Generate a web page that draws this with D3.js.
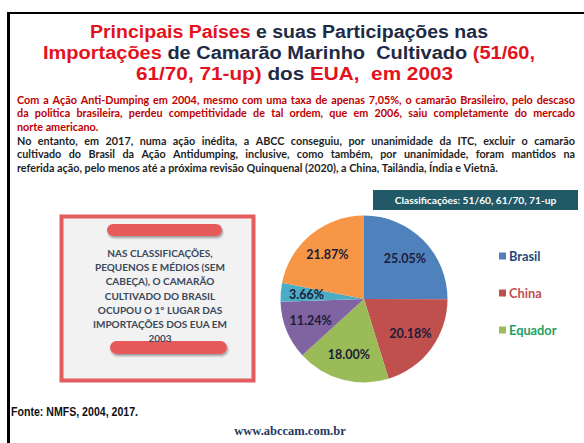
<!DOCTYPE html>
<html><head><meta charset="utf-8">
<script src="https://cdn.jsdelivr.net/npm/d3@7"></script>
<style>html,body{margin:0;padding:0;background:#fff}svg{display:block}text{white-space:pre}</style>
</head><body>
<script>
// ---- data ----
const categories = ["Brasil", "China", "Equador", "", "", ""];
const shares = [25.05, 20.18, 18.00, 11.24, 3.66, 21.87];
const shareLabels = ["25.05%", "20.18%", "18.00%", "11.24%", "3.66%", "21.87%"];
const legendItems = ["Brasil", "China", "Equador"];
const titleLines = [
  [["Principais Países", "r"], [" e suas Participações nas", "d"]],
  [["Importações", "r"], [" de Camarão Marinho  Cultivado ", "d"], ["(51/60,", "r"]],
  [["61/70, 71-up)", "r"], [" dos ", "d"], ["EUA,  em 2003", "r"]]
];
const para1 = [
  "Com a Ação Anti-Dumping em 2004, mesmo com uma taxa de apenas 7,05%, o camarão Brasileiro, pelo descaso",
  "da politica  brasileira, perdeu competitividade  de tal ordem, que em 2006, saiu completamente do mercado",
  "norte americano."
];
const para2 = [
  "No entanto, em 2017, numa ação inédita, a ABCC conseguiu, por unanimidade da ITC,  excluir o camarão",
  "cultivado do Brasil da Ação Antidumping, inclusive, como também, por unanimidade, foram mantidos na",
  "referida ação, pelo menos até a próxima revisão Quinquenal (2020), a China, Tailândia, Índia e Vietnã."
];
const boxLines = ["NAS CLASSIFICAÇÕES,", "PEQUENOS E MÉDIOS (SEM", "CABEÇA), O CAMARÃO",
  "CULTIVADO DO BRASIL", "OCUPOU O 1° LUGAR DAS", "IMPORTAÇÕES DOS EUA EM", "2003"];
const classLabel = "Classificações: 51/60, 61/70, 71-up";
const sourceText = "Fonte: NMFS, 2004, 2017.";
const siteText = "www.abccam.com.br";

// ---- drawing ----
const W = 584, H = 443;
const svg = d3.select("body").append("svg").attr("width", W).attr("height", H);
const defs = svg.append("defs");
const f = defs.append("filter").attr("id", "sh").attr("x", "-20%").attr("y", "-50%").attr("width", "140%").attr("height", "220%");
f.append("feDropShadow").attr("dx", 1).attr("dy", 2).attr("stdDeviation", 1.2).attr("flood-color", "#000").attr("flood-opacity", 0.35);

// frame
svg.append("rect").attr("x", 7).attr("y", 12).attr("width", W - 7).attr("height", 2).attr("fill", "#000");
svg.append("rect").attr("x", 7).attr("y", 12).attr("width", 3).attr("height", H - 12).attr("fill", "#000");

// title
const tcol = { r: "#E3121C", d: "#1E2B45" };
const titleGeo = [{ x: 90, y: 38, w: 398 }, { x: 43, y: 59, w: 492 }, { x: 136, y: 80, w: 317 }];
titleLines.forEach((ln, i) => {
  const t = svg.append("text").attr("x", titleGeo[i].x).attr("y", titleGeo[i].y)
    .attr("font-family", "'Liberation Sans Narrow','Arial Narrow','Liberation Sans',sans-serif")
    .attr("font-weight", "bold").attr("font-size", 18.8);
  ln.forEach(([s, c]) => t.append("tspan").attr("fill", tcol[c]).text(s));
  t.attr("textLength", titleGeo[i].w).attr("lengthAdjust", "spacingAndGlyphs");
});

// paragraphs (justified)
const pFont = "Lato, 'Open Sans', sans-serif", pSize = 10.8;
const pLeft = 17, pRight = 575;
function para(lines, y0, color) {
  lines.forEach((ln, i) => {
    const y = y0 + i * 13.6;
    const last = i === lines.length - 1;
    const words = ln.split(/\s+/).filter(w => w.length);
    const g = svg.append("g");
    const nodes = words.map(w => g.append("text").attr("y", y).attr("font-family", pFont)
      .attr("font-weight", "bold").attr("font-size", pSize).attr("fill", color).text(w));
    const widths = nodes.map(n => n.node().getComputedTextLength());
    const tot = d3.sum(widths);
    const space = last ? pSize * 0.24 : (pRight - pLeft - tot) / (words.length - 1);
    let x = pLeft;
    nodes.forEach((n, k) => { n.attr("x", x); x += widths[k] + space; });
  });
}
para(para1, 103.5, "#C00000");
para(para2, 144.5, "#1F1F1F");

// left info box
svg.append("rect").attr("x", 61.5).attr("y", 216.5).attr("width", 192).attr("height", 164)
  .attr("fill", "#F2F2F2").attr("stroke", "#E35D5F").attr("stroke-width", 4);
svg.append("rect").attr("x", 107).attr("y", 224).attr("width", 115).attr("height", 12).attr("rx", 6)
  .attr("fill", "#E65A5C").attr("filter", "url(#sh)");
svg.append("rect").attr("x", 110).attr("y", 341).attr("width", 117).attr("height", 13).attr("rx", 6.5)
  .attr("fill", "#E65A5C").attr("filter", "url(#sh)");
svg.append("g").selectAll("text").data(boxLines).join("text")
  .attr("x", 160).attr("y", (d, i) => 257 + i * 14.2).attr("text-anchor", "middle")
  .attr("font-family", pFont).attr("font-weight", "bold").attr("font-size", 10)
  .attr("fill", "#3A485A").text(d => d);

// classification banner
svg.append("rect").attr("x", 373).attr("y", 190).attr("width", 205).attr("height", 20).attr("fill", "#215967");
svg.append("text").attr("x", 475.5).attr("y", 203.5).attr("text-anchor", "middle")
  .attr("font-family", pFont).attr("font-weight", "bold").attr("font-size", 10.2)
  .attr("fill", "#fff").text(classLabel);

// pie
const colors = ["#4F81BD", "#C0504D", "#9BBB59", "#8064A2", "#4BACC6", "#F79646"];
const cx = 364, cy = 299, R = 83.5;
const data = categories.map((c, i) => ({ c, v: shares[i], l: shareLabels[i], col: colors[i] }));
const pie = d3.pie().value(d => d.v).sort(null);
const arcs = pie(data);
const arc = d3.arc().innerRadius(0).outerRadius(R);
const labArc = d3.arc().innerRadius(R * 0.69).outerRadius(R * 0.69);
const pg = svg.append("g").attr("transform", `translate(${cx},${cy})`);
pg.selectAll("path").data(arcs).join("path").attr("d", arc).attr("fill", d => d.data.col);
pg.selectAll("text").data(arcs).join("text")
  .attr("transform", d => `translate(${labArc.centroid(d)})`)
  .attr("text-anchor", "middle").attr("dy", "0.36em")
  .attr("font-family", pFont).attr("font-weight", "bold").attr("font-size", 12.5)
  .attr("fill", "#1C1C3A").text(d => d.data.l);

// legend
const ly = d3.scalePoint().domain(legendItems).range([256, 330]);
const txtCol = ["#1F497D", "#C0504D", "#23A062"];
const lg = svg.append("g");
legendItems.forEach((name, i) => {
  lg.append("rect").attr("x", 499).attr("y", ly(name) - 3.5).attr("width", 7).attr("height", 7).attr("fill", colors[i]);
  lg.append("text").attr("x", 509).attr("y", ly(name)).attr("dy", "0.36em")
    .attr("font-family", pFont).attr("font-weight", "bold").attr("font-size", 12.8)
    .attr("fill", txtCol[i]).text(name);
});

// footer
svg.append("text").attr("x", 11).attr("y", 416).attr("font-family", "'Liberation Sans Narrow','Liberation Sans',Arial,sans-serif")
  .attr("font-weight", "bold").attr("font-size", 12).attr("fill", "#111").attr("textLength", 127)
  .attr("lengthAdjust", "spacingAndGlyphs").text(sourceText);
svg.append("text").attr("x", 290).attr("y", 435).attr("text-anchor", "middle")
  .attr("font-family", "'Liberation Serif','Times New Roman',serif").attr("font-weight", "bold")
  .attr("font-size", 12.5).attr("fill", "#1F3864").text(siteText);
</script>
</body></html>
